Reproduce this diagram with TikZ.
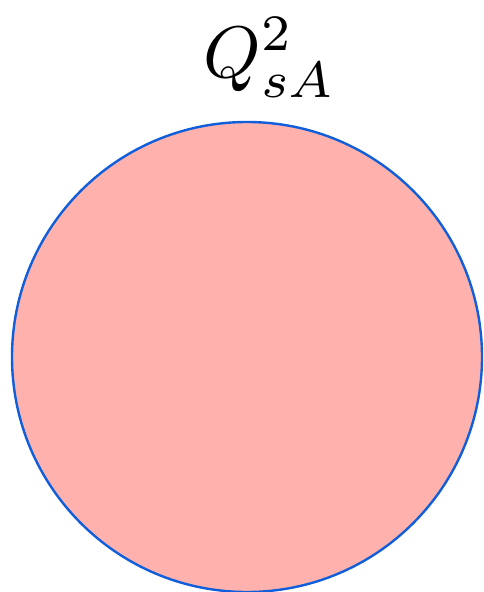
\documentclass[tikz,border=0pt]{standalone}
\definecolor{diskfill}{RGB}{255,178,173}
\definecolor{diskline}{RGB}{16,94,218}
\begin{document}
\begin{tikzpicture}[x=1pt,y=-1pt,
  disk/.style={circle,draw=diskline,fill=diskfill,line width=2.4pt,minimum size=470pt,inner sep=0pt},
  lbl/.style={inner sep=0pt,anchor=base west,scale=7.3}]
\useasboundingbox (0,0) rectangle (484,592);
\node[disk] (c) at (247,357) {};
\node[lbl] (q) at (202,77) {$Q^2_{sA}$};
\end{tikzpicture}
\end{document}
